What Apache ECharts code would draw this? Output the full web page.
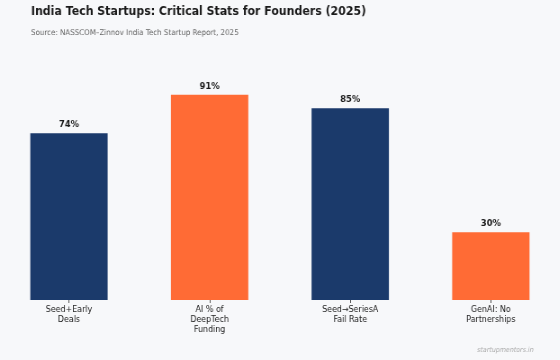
<!DOCTYPE html>
<html><head><meta charset="utf-8">
<script src="https://cdn.jsdelivr.net/npm/echarts@6/dist/echarts.min.js"></script>
<style>html,body{margin:0;padding:0;background:#f7f8fa;overflow:hidden}
#c{width:622px;height:360px;transform:scaleX(0.9);transform-origin:0 0}</style>
</head><body><div id="c"></div>
<script>
const categories = ["Seed+Early\nDeals", "AI % of\nDeepTech\nFunding", "Seed\u2192SeriesA\nFail Rate", "GenAI: No\nPartnerships"];
const values = [74, 91, 85, 30];
const colors = ["#1b3a6b", "#ff6b35", "#1b3a6b", "#ff6b35"];
const chart = echarts.init(document.getElementById('c'), null, {renderer: 'canvas'});
chart.setOption({
  backgroundColor: '#f7f8fa',
  animation: false,
  title: [
    {text: 'India Tech Startups: Critical Stats for Founders (2025)', left: 34.4, top: 5.6, padding: 0,
     textStyle: {fontFamily: 'DejaVu Sans', fontSize: 12.2, fontWeight: 'bold', color: '#1a1a1a'}},
    {text: 'Source: NASSCOM\u2013Zinnov India Tech Startup Report, 2025', left: 34.4, top: 28.5, padding: 0,
     textStyle: {fontFamily: 'DejaVu Sans', fontSize: 7.9, fontWeight: 'normal', color: '#666'}},
    {text: 'startupmentors.in', right: 29, bottom: 6.5, padding: 0,
     textStyle: {fontFamily: 'DejaVu Sans', fontSize: 7, fontStyle: 'italic', fontWeight: 'normal', color: '#aaa'}}
  ],
  grid: {left: -1.5, right: -1.5, top: 74.5, bottom: 60, outerBoundsMode: 'none', containLabel: false},
  xAxis: {
    type: 'category', data: categories,
    axisLine: {show: false},
    axisTick: {show: true, alignWithLabel: true, length: 3, lineStyle: {color: '#555'}},
    axisLabel: {fontFamily: 'DejaVu Sans', fontSize: 8.8, color: '#222', lineHeight: 10, margin: 5, interval: 0}
  },
  yAxis: {type: 'value', min: 0, max: 100, show: false, splitLine: {show: false}},
  series: [{
    type: 'bar', barWidth: '55%',
    data: values.map((v, i) => ({value: v, itemStyle: {color: colors[i]}})),
    label: {show: true, position: 'top', distance: 4, formatter: p => p.value + '%',
      fontFamily: 'DejaVu Sans', fontSize: 9.3, fontWeight: 'bold', color: '#1a1a1a'}
  }]
});
</script></body></html>
